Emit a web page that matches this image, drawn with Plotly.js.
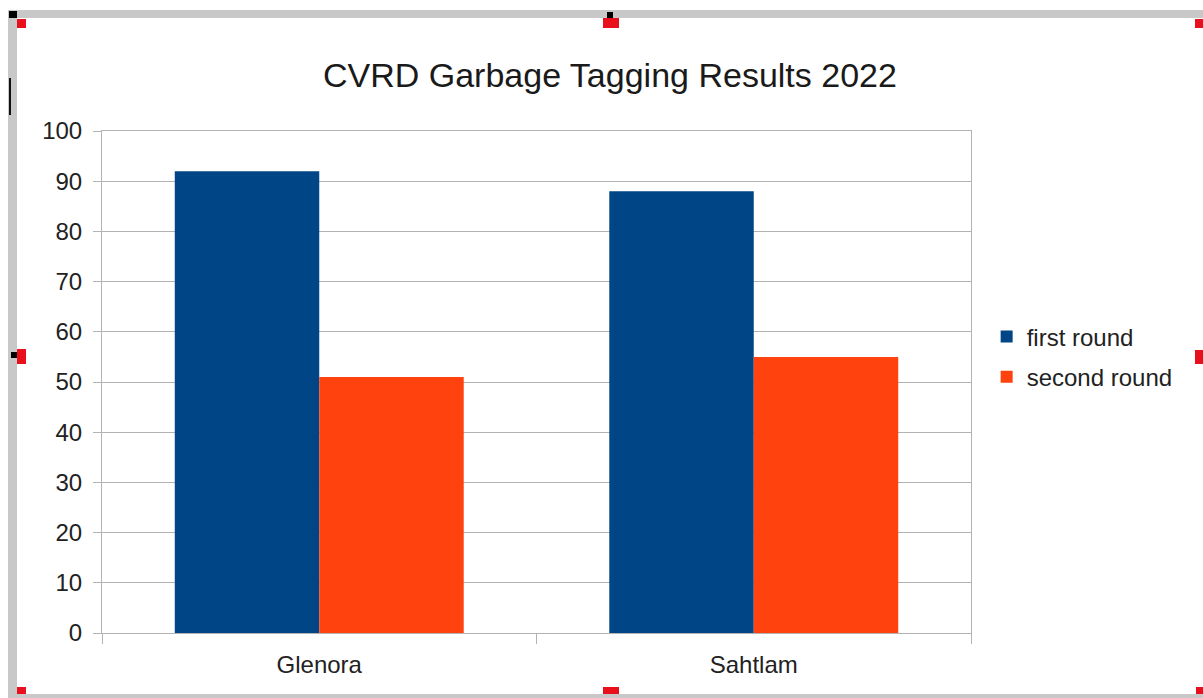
<!DOCTYPE html>
<html>
<head>
<meta charset="utf-8">
<script src="https://cdn.plot.ly/plotly-3.0.1.min.js"></script>
<style>
html,body{margin:0;padding:0;background:#fff;}
#chart{width:1203px;height:698px;}
</style>
</head>
<body>
<div id="chart"></div>
<script>
const categories = ["Glenora", "Sahtlam"];
const firstRound = [92, 88];
const secondRound = [51, 55];
const seriesNames = ["first round", "second round"];
const yTicks = [0, 10, 20, 30, 40, 50, 60, 70, 80, 90, 100];

const font = "Liberation Sans, Arial, sans-serif";

const traces = [
  {type: "bar", name: seriesNames[0], x: categories, y: firstRound, legendgroup: "a",
   marker: {color: "#004586"}, hoverinfo: "none"},
  {type: "bar", name: seriesNames[1], x: categories, y: secondRound, legendgroup: "b",
   marker: {color: "#ff420e"}, hoverinfo: "none"}
];

// decoration: screenshot selection frame (pixel → paper helpers)
const L = 102, R = 971, T = 131, B = 633;
const px = v => (v - L) / (R - L);
const py = v => (B - v) / (B - T);
const box = (x0, y0, x1, y1, color) => ({type: "rect", xref: "paper", yref: "paper", layer: "above",
  x0: px(x0), x1: px(x1), y0: py(y1), y1: py(y0), fillcolor: color, line: {width: 0}});
const frameColor = "#c8c8c8";
const red = "#e8101c";
const shapes = [
  box(8, 10, 17, 698, frameColor),
  box(8, 10, 1203, 18, frameColor),
  box(8, 694, 1203, 698, frameColor),
  box(9, 11, 17, 18, "#000"),
  box(17, 19, 26, 28, red),
  box(607, 12, 613, 18, "#000"),
  box(603, 18, 619, 28, red),
  box(1195, 19, 1203, 28, red),
  box(11, 352, 17, 358, "#000"),
  box(17, 349, 26, 364, red),
  box(1195, 350, 1203, 364, red),
  box(17, 687, 26, 694, red),
  box(603, 687, 619, 694, red),
  box(1196, 687, 1203, 694, red),
  box(9, 78, 11, 115, "#111")
];

const layout = {
  width: 1203, height: 698,
  margin: {l: L, r: 1203 - R, t: T, b: 698 - B},
  paper_bgcolor: "#ffffff", plot_bgcolor: "#ffffff",
  font: {family: font, color: "#222222", size: 24},
  title: {text: "CVRD Garbage Tagging Results 2022", font: {family: font, size: 34, color: "#1a1a1a"},
          x: 0.507, xanchor: "center", y: 0.892, yanchor: "middle"},
  barmode: "group", bargap: 0.335, bargroupgap: 0,
  xaxis: {type: "category", tickson: "boundaries", ticks: "outside", ticklen: 10, tickcolor: "#b3b3b3",
          showline: true, linecolor: "#b3b3b3", linewidth: 1, mirror: true, ticklabelstandoff: 10,
          showgrid: false, tickfont: {size: 24, color: "#222"}, fixedrange: true},
  yaxis: {range: [0, 100], tickvals: yTicks, ticks: "outside", ticklen: 8, tickcolor: "#b3b3b3",
          showline: true, linecolor: "#b3b3b3", linewidth: 1, mirror: true, ticklabelstandoff: 6,
          gridcolor: "#b3b3b3", gridwidth: 1, zeroline: false,
          tickfont: {size: 24, color: "#222"}, fixedrange: true},
  showlegend: true,
  legend: {x: 1.018, xanchor: "left", y: 0.55, yanchor: "middle", font: {size: 24, color: "#222"},
           traceorder: "grouped", tracegroupgap: 6, bgcolor: "rgba(0,0,0,0)"},
  shapes: shapes
};

Plotly.newPlot("chart", traces, layout, {displayModeBar: false, staticPlot: true});
</script>
</body>
</html>
